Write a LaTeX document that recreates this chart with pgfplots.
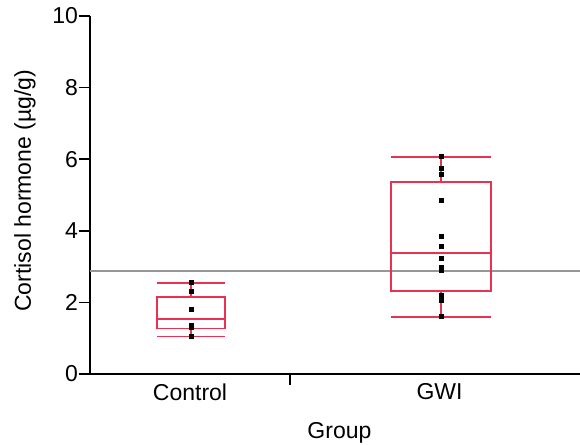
\documentclass[border=0pt]{standalone}
\usepackage{pgfplots}
\pgfplotsset{compat=1.18}
\usepgfplotslibrary{statistics}
\usepackage{fontspec}
\setmainfont{Liberation Sans}

\definecolor{boxred}{RGB}{232,50,80}
\definecolor{refgray}{RGB}{150,150,150}
\newcommand{\lblfont}{\fontsize{17.25}{20}\selectfont}

\begin{document}
\begin{tikzpicture}
    % fixed frame: 1 px of the reference = 0.75pt
    \useasboundingbox (-67.5pt,-52.5pt) rectangle (367.5pt,280.5pt);
    \begin{axis}[
        at={(0,0)}, anchor=south west,
        scale only axis,
        width=367.5pt, height=268.5pt,
        xmin=90, xmax=580,
        ymin=0, ymax=10,
        axis x line*=bottom,
        axis y line*=left,
        axis line style={line width=1.1pt},
        ytick={0,2,4,6,8,10},
        xtick={290},
        xticklabels={},
        extra x ticks={190,439.5},
        extra x tick labels={Control,GWI},
        extra x tick style={tick style={draw=none}},
        tick align=outside,
        major tick length=8.5pt,
        every tick/.style={black, line width=1.1pt},
        tick label style={font=\lblfont},
        /pgf/number format/assume math mode=true,
        yticklabel style={xshift=3pt},
        xticklabel style={yshift=5pt},
        label style={font=\lblfont},
        xlabel={Group},
        xlabel style={at={(axis description cs:0.509,-0.1788)}, anchor=base},
        ylabel={Cortisol hormone (µg/g)},
        ylabel style={at={(axis description cs:-0.1327,0.512)}, anchor=center},
        boxplot/draw direction=y,
    ]
        % reference line
        \addplot[refgray, line width=1.2pt] coordinates {(90,2.88) (580,2.88)};

        % Control
        \addplot[boxred, line width=1.35pt, solid,
            boxplot prepared={draw position=191,
                lower whisker=1.05, lower quartile=1.27, median=1.53,
                upper quartile=2.15, upper whisker=2.55,
                box extend=68, whisker extend=68}]
            coordinates {};
        % GWI
        \addplot[boxred, line width=1.35pt, solid,
            boxplot prepared={draw position=441,
                lower whisker=1.60, lower quartile=2.32, median=3.37,
                upper quartile=5.37, upper whisker=6.07,
                box extend=100, whisker extend=100}]
            coordinates {};

        % individual observations
        \addplot[only marks, mark=square*, mark size=1.5pt, black] coordinates {
            (191.5,2.55) (191.5,2.30) (191.5,1.80) (191.5,1.36) (191.5,1.31) (191.5,1.06)
        };
        \addplot[only marks, mark=square*, mark size=1.5pt, black] coordinates {
            (441,6.07) (441,5.74) (441,5.59) (441,4.85) (441,3.85) (441,3.57)
            (441,3.24) (441,2.97) (441,2.91) (441,2.21) (441,2.13) (441,2.07) (441,1.60)
        };
    \end{axis}
\end{tikzpicture}
\end{document}
